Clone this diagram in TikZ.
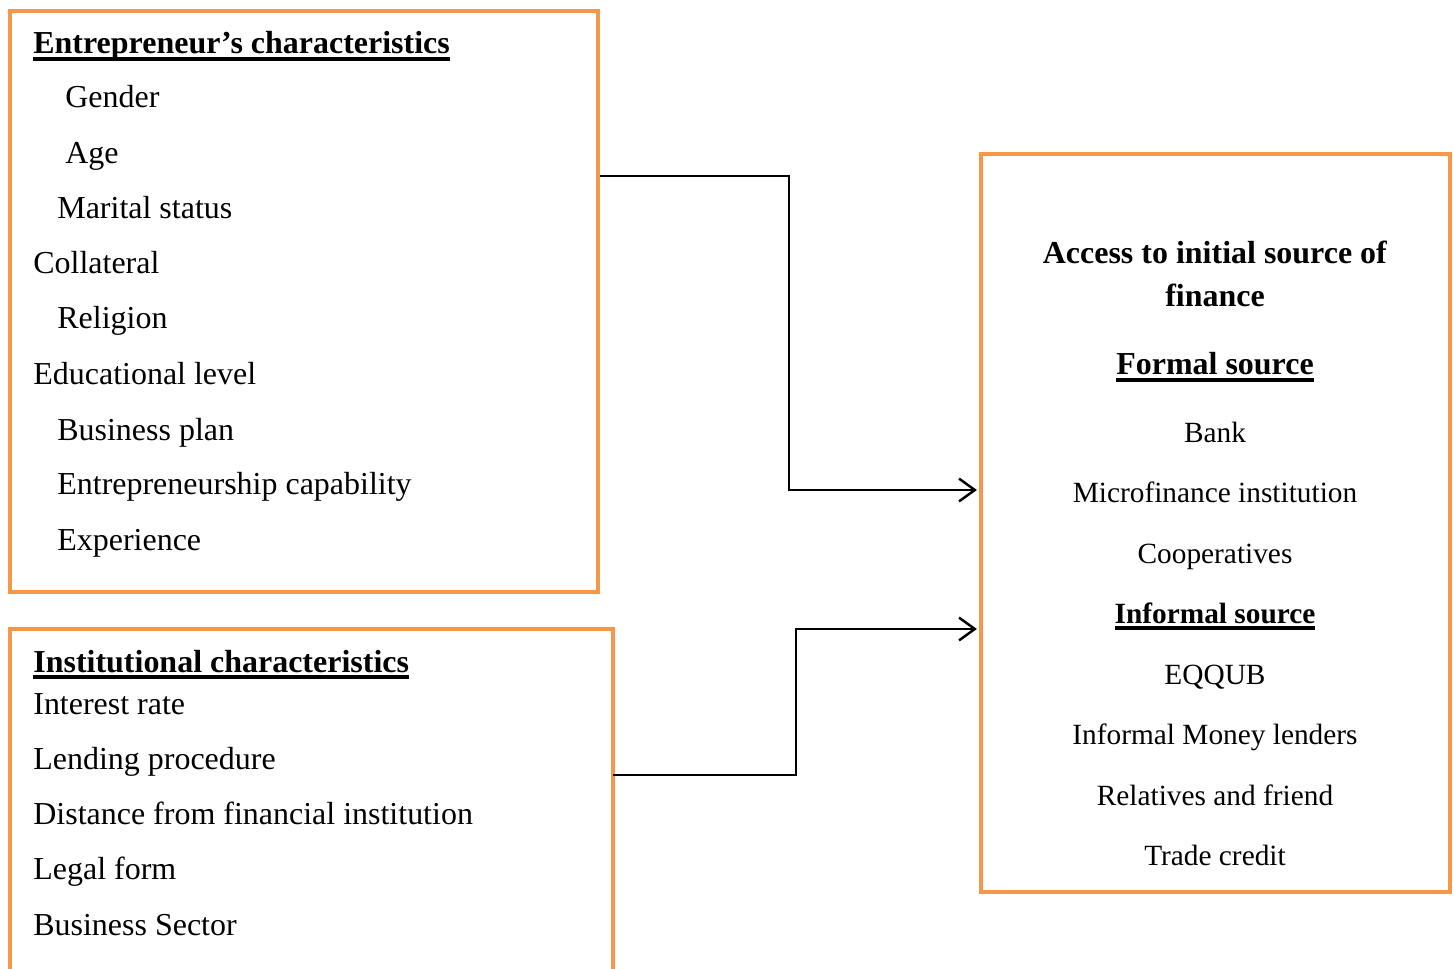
\documentclass[tikz,border=0pt]{standalone}
\usepackage{fontspec}
\setmainfont{Liberation Serif}
\usetikzlibrary{positioning,arrows.meta}
\definecolor{boxorange}{HTML}{F79646}
\newcommand{\ulbox}[1]{\leavevmode\setbox0\hbox{#1}\rlap{\vrule height -1.8pt depth 3.8pt width \wd0}\box0}
\tikzset{
  box/.style={draw=boxorange, line width=2.7pt},
  item/.style={anchor=base west, inner sep=0pt, font=\fontsize{18.2}{21}\selectfont},
  citem/.style={anchor=base, inner sep=0pt, font=\fontsize{18.2}{21}\selectfont},
  csmall/.style={citem, font=\fontsize{16.7}{19}\selectfont},
  conn/.style={-{Straight Barb[length=9pt,width=13pt]}, line width=1.4pt, shorten >=1pt}
}

\begin{document}
\begin{tikzpicture}[x=0.02cm,y=-0.02cm]
  \useasboundingbox (0,0) rectangle (1454,969);

  % boxes
  \node[box, minimum width=11.76cm, minimum height=11.62cm] (entbox) at (304,301.5) {};
  \node[box, minimum width=9.38cm, minimum height=14.76cm] (accbox) at (1215.5,523) {};
  \draw[box] (10,990) -- (10,629) -- (613,629) -- (613,990);
  \coordinate (instR) at (613,775);

  % entrepreneur
  \node[item] (enttitle) at (33,54) {\ulbox{\textbf{Entrepreneur’s characteristics}}};
  \node[item] (gender) at (65,108) {Gender};
  \node[item] (age) at (65,164) {Age};
  \node[item] (marital) at (57,219) {Marital status};
  \node[item] (collat) at (33,274) {Collateral};
  \node[item] (relig) at (57,329) {Religion};
  \node[item] (educ) at (33,385) {Educational level};
  \node[item] (bplan) at (57,440) {Business plan};
  \node[item] (capab) at (57,495) {Entrepreneurship capability};
  \node[item] (exper) at (57,550) {Experience};

  % institutional
  \node[item] (insttitle) at (33,672) {\ulbox{\textbf{Institutional characteristics}}};
  \node[item] (interest) at (33,714) {Interest rate};
  \node[item] (lending) at (33,769) {Lending procedure};
  \node[item] (dist) at (33,824) {Distance from financial institution};
  \node[item] (legal) at (33,879) {Legal form};
  \node[item] (sector) at (33,935) {Business Sector};

  % access to finance
  \node[citem] (acc1) at (1215,264) {\textbf{Access to initial source of}};
  \node[citem] (acc2) at (1215,307) {\textbf{finance}};
  \node[citem] (formal) at (1215,375) {\ulbox{\textbf{Formal source}}};
  \node[csmall] (bank) at (1215,442) {Bank};
  \node[csmall] (micro) at (1215,502) {Microfinance institution};
  \node[csmall] (coop) at (1215,563) {Cooperatives};
  \node[csmall] (informal) at (1215,623) {\ulbox{\textbf{Informal source}}};
  \node[csmall] (eqqub) at (1215,684) {EQQUB};
  \node[csmall] (lenders) at (1215,744) {Informal Money lenders};
  \node[csmall] (relat) at (1215,805) {Relatives and friend};
  \node[csmall] (trade) at (1215,865) {Trade credit};

  % arrows
  \draw[conn] (entbox.east |- 0,176) -| (789,490) -- (accbox.west |- 0,490);
  \draw[conn] (instR) -| (796,629) -- (accbox.west |- 0,629);
\end{tikzpicture}
\end{document}
